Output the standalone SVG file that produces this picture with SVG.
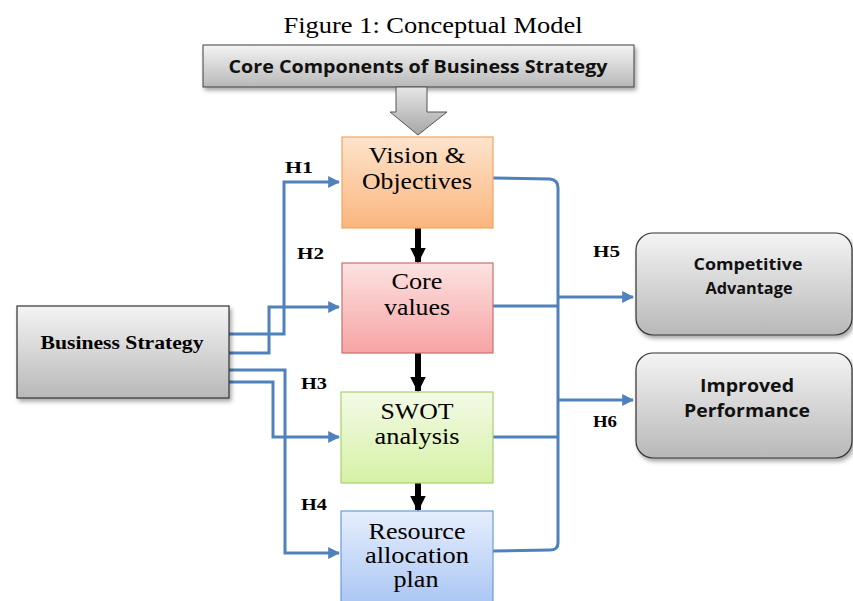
<svg xmlns="http://www.w3.org/2000/svg" width="853" height="601" viewBox="0 0 853 601">
<defs>
<style>
.t{font-family:"Liberation Serif","Times New Roman",serif;fill:#000}
.box{font-size:23px;text-anchor:middle}
.h{font-size:17px;font-weight:bold}
.s{font-family:"Open Sans","Liberation Sans",sans-serif;font-weight:bold;fill:#111;text-anchor:middle}
.ln{fill:none;stroke:#4f81bd;stroke-width:3}
.blk{stroke:#000;stroke-width:6}
</style>
<linearGradient id="gGray" x1="0" y1="0" x2="0" y2="1"><stop offset="0" stop-color="#f4f4f4"/><stop offset="1" stop-color="#b8b8b8"/></linearGradient>
<linearGradient id="gArrow" x1="0" y1="0" x2="0" y2="1"><stop offset="0" stop-color="#e6e6e6"/><stop offset="1" stop-color="#a6a6a6"/></linearGradient>
<linearGradient id="gOr" x1="0" y1="0" x2="0" y2="1"><stop offset="0" stop-color="#fde4cc"/><stop offset="1" stop-color="#fbb57e"/></linearGradient>
<linearGradient id="gRd" x1="0" y1="0" x2="0" y2="1"><stop offset="0" stop-color="#fde2e2"/><stop offset="1" stop-color="#f7a3a3"/></linearGradient>
<linearGradient id="gGr" x1="0" y1="0" x2="0" y2="1"><stop offset="0" stop-color="#f3fae6"/><stop offset="1" stop-color="#d6f1a6"/></linearGradient>
<linearGradient id="gBl" x1="0" y1="0" x2="0" y2="1"><stop offset="0" stop-color="#e6eefd"/><stop offset="1" stop-color="#a6c3f3"/></linearGradient>
<filter id="sh" x="-10%" y="-10%" width="130%" height="140%"><feDropShadow dx="2" dy="3" stdDeviation="2" flood-color="#000" flood-opacity="0.35"/></filter>
<marker id="ab" viewBox="0 0 10 10" refX="9" refY="5" markerWidth="4" markerHeight="4" orient="auto" markerUnits="strokeWidth"><path d="M0,0 L10,5 L0,10 z" fill="#4f81bd"/></marker>
<marker id="ak" viewBox="0 0 10 10" refX="9" refY="5" markerWidth="2.6" markerHeight="2.6" orient="auto" markerUnits="strokeWidth"><path d="M0,0 L10,5 L0,10 z" fill="#000"/></marker>
</defs>
<rect width="853" height="601" fill="#fff"/>
<text class="t" x="433" y="33" font-size="23" text-anchor="middle" textLength="299" lengthAdjust="spacingAndGlyphs">Figure 1: Conceptual Model</text>

<g id="core-components">
<rect x="203" y="45" width="431" height="42" fill="url(#gGray)" stroke="#404040" stroke-width="1" filter="url(#sh)"/>
<text class="s" x="418" y="73" font-size="18" textLength="379" lengthAdjust="spacingAndGlyphs">Core Components of Business Strategy</text>
<path d="M396,87 L427,87 L427,112 L447,112 L418,135 L390,112 L396,112 z" fill="url(#gArrow)" stroke="#555" stroke-width="1"/>
</g>

<g id="connectors">
<line class="blk" x1="418" y1="228" x2="418" y2="262" marker-end="url(#ak)"/>
<line class="blk" x1="418" y1="353" x2="418" y2="391" marker-end="url(#ak)"/>
<line class="blk" x1="418" y1="483" x2="418" y2="510" marker-end="url(#ak)"/>
<path class="ln" d="M229,334 L284,334 L284,182 L339,182" marker-end="url(#ab)"/>
<path class="ln" d="M229,353 L269,353 L269,307 L339,307" marker-end="url(#ab)"/>
<path class="ln" d="M229,382 L273,382 L273,437 L339,437" marker-end="url(#ab)"/>
<path class="ln" d="M229,370 L285,370 L285,553 L339,553" marker-end="url(#ab)"/>
<path class="ln" d="M493,178 L550,179 Q558,180 558,188 L558,543 Q558,550 550,550 L493,551"/>
<line class="ln" x1="493" y1="306" x2="558" y2="306"/>
<line class="ln" x1="493" y1="437" x2="558" y2="437"/>
<line class="ln" x1="558" y1="297" x2="633" y2="297" marker-end="url(#ab)"/>
<line class="ln" x1="558" y1="400" x2="633" y2="400" marker-end="url(#ab)"/>
</g>

<g id="business-strategy">
<rect x="17" y="306" width="212" height="92" fill="url(#gGray)" stroke="#333" stroke-width="1.2" filter="url(#sh)"/>
<text class="t" x="122" y="349" font-size="18" font-weight="bold" text-anchor="middle" textLength="163" lengthAdjust="spacingAndGlyphs">Business Strategy</text>
</g>

<g id="vision">
<rect x="342" y="137" width="151" height="91" fill="url(#gOr)" stroke="#f4a460" stroke-width="1.2"/>
<text class="t box" x="417" y="163" textLength="97" lengthAdjust="spacingAndGlyphs">Vision &amp;</text>
<text class="t box" x="417" y="189" textLength="110" lengthAdjust="spacingAndGlyphs">Objectives</text>
</g>
<g id="core-values">
<rect x="342" y="263" width="151" height="90" fill="url(#gRd)" stroke="#c9706d" stroke-width="1.2"/>
<text class="t box" x="417" y="289" textLength="51" lengthAdjust="spacingAndGlyphs">Core</text>
<text class="t box" x="417" y="315" textLength="66" lengthAdjust="spacingAndGlyphs">values</text>
</g>
<g id="swot">
<rect x="341" y="392" width="152" height="91" fill="url(#gGr)" stroke="#a9cf72" stroke-width="1.2"/>
<text class="t box" x="417" y="419" textLength="73" lengthAdjust="spacingAndGlyphs">SWOT</text>
<text class="t box" x="417" y="444" textLength="85" lengthAdjust="spacingAndGlyphs">analysis</text>
</g>
<g id="resource">
<rect x="341" y="511" width="152" height="100" fill="url(#gBl)" stroke="#6b9bd8" stroke-width="1.2"/>
<text class="t box" x="417" y="539" textLength="97" lengthAdjust="spacingAndGlyphs">Resource</text>
<text class="t box" x="417" y="563" textLength="104" lengthAdjust="spacingAndGlyphs">allocation</text>
<text class="t box" x="416" y="587" textLength="45" lengthAdjust="spacingAndGlyphs">plan</text>
</g>

<g id="competitive-advantage">
<rect x="636" y="233" width="216" height="102" rx="17" fill="url(#gGray)" stroke="#333" stroke-width="1.2" filter="url(#sh)"/>
<text class="s" x="748" y="270" font-size="16" textLength="109" lengthAdjust="spacingAndGlyphs">Competitive</text>
<text class="s" x="749" y="294" font-size="16" textLength="87" lengthAdjust="spacingAndGlyphs">Advantage</text>
</g>
<g id="improved-performance">
<rect x="636" y="353" width="216" height="105" rx="17" fill="url(#gGray)" stroke="#333" stroke-width="1.2" filter="url(#sh)"/>
<text class="s" x="747" y="392" font-size="17.5" textLength="94" lengthAdjust="spacingAndGlyphs">Improved</text>
<text class="s" x="747" y="417" font-size="17.5" textLength="126" lengthAdjust="spacingAndGlyphs">Performance</text>
</g>

<g id="labels">
<text class="t h" x="285" y="173" textLength="28" lengthAdjust="spacingAndGlyphs">H1</text>
<text class="t h" x="297" y="259" textLength="27" lengthAdjust="spacingAndGlyphs">H2</text>
<text class="t h" x="301" y="389" textLength="26" lengthAdjust="spacingAndGlyphs">H3</text>
<text class="t h" x="301" y="510" textLength="26" lengthAdjust="spacingAndGlyphs">H4</text>
<text class="t h" x="593" y="257" textLength="27" lengthAdjust="spacingAndGlyphs">H5</text>
<text class="t h" x="593" y="427" textLength="24" lengthAdjust="spacingAndGlyphs">H6</text>
</g>
</svg>
